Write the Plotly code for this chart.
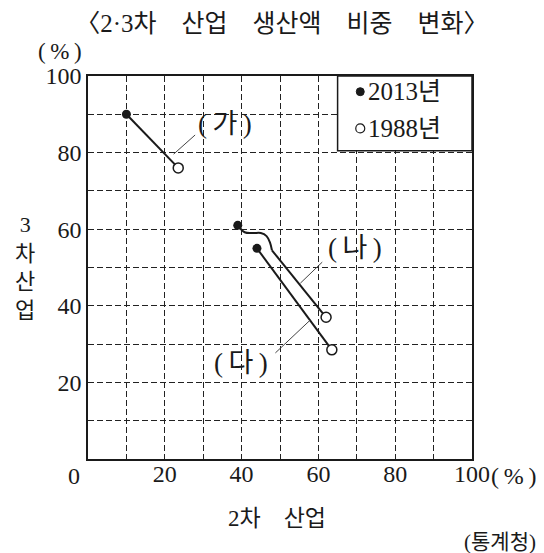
import plotly.graph_objects as go

# 2차·3차 산업 생산액 비중 (%)
groups = ["가", "나", "다"]
sec2_2013 = [10, 39, 44]
sec3_2013 = [90, 61, 55]
sec2_1988 = [23.5, 62, 63.5]
sec3_1988 = [76, 37, 28.5]

# (나)의 선이 (다) 2013년 점을 비켜 돌아가는 구간
na_bend_x = [40.8, 43.0, 45.0, 46.5, 47.4, 47.9]
na_bend_y = [59.2, 59.0, 59.0, 58.2, 56.5, 54.5]

x_ticks = [20, 40, 60, 80, 100]
y_ticks = [20, 40, 60, 80, 100]

SERIF = "Liberation Serif, Noto Sans CJK KR"
INK = "#1a1a1a"

fig = go.Figure()

# 1988 -> 2013 연결선
for i, g in enumerate(groups):
    if g == "나":
        fig.add_trace(go.Scatter(
            x=[sec2_2013[i]] + na_bend_x, y=[sec3_2013[i]] + na_bend_y,
            mode="lines", line=dict(color=INK, width=2, shape="spline"),
            showlegend=False, hoverinfo="skip"))
        fig.add_trace(go.Scatter(
            x=[na_bend_x[-1], sec2_1988[i]], y=[na_bend_y[-1], sec3_1988[i]],
            mode="lines", line=dict(color=INK, width=2),
            showlegend=False, hoverinfo="skip"))
    else:
        fig.add_trace(go.Scatter(
            x=[sec2_2013[i], sec2_1988[i]], y=[sec3_2013[i], sec3_1988[i]],
            mode="lines", line=dict(color=INK, width=2),
            showlegend=False, hoverinfo="skip"))

fig.add_trace(go.Scatter(
    x=sec2_2013, y=sec3_2013, mode="markers", name="2013년",
    marker=dict(size=9, color=INK), text=groups, showlegend=False))
fig.add_trace(go.Scatter(
    x=sec2_1988, y=sec3_1988, mode="markers", name="1988년",
    marker=dict(size=10, color="white", line=dict(color=INK, width=1.5)),
    text=groups, showlegend=False))

# 지시선과 (가)(나)(다) 표시
leaders = {"가": ((22.3, 79.6), (27.9, 84.6)),
           "나": ((55.3, 45.9), (61.0, 51.4)),
           "다": ((48.8, 27.7), (57.9, 36.3))}
label_at = {"가": (35.8, 87.4), "나": (69.6, 55.1), "다": (39.8, 25.0)}

shapes = []
annotations = []
for g in groups:
    (ax0, ay0), (ax1, ay1) = leaders[g]
    shapes.append(dict(type="line", xref="x", yref="y", x0=ax0, y0=ay0,
                       x1=ax1, y1=ay1, line=dict(color="#444", width=1)))
    lx, ly = label_at[g]
    annotations.append(dict(x=lx, y=ly, xref="x", yref="y", text="(\u2009" + g + "\u2009)",
                            showarrow=False, font=dict(family=SERIF, size=27, color=INK)))

# 범례 상자
shapes.append(dict(type="rect", xref="x", yref="y", x0=65, x1=100, y0=80.5, y1=100,
                   fillcolor="white", line=dict(color=INK, width=1.5), layer="above"))
shapes.append(dict(type="circle", xref="x", yref="y", xsizemode="pixel", ysizemode="pixel",
                   xanchor=70.9, yanchor=95.9, x0=-4, x1=4, y0=-4, y1=4,
                   fillcolor=INK, line=dict(color=INK, width=1), layer="above"))
shapes.append(dict(type="circle", xref="x", yref="y", xsizemode="pixel", ysizemode="pixel",
                   xanchor=70.9, yanchor=86.3, x0=-4.5, x1=4.5, y0=-4.5, y1=4.5,
                   fillcolor="white", line=dict(color=INK, width=1.2), layer="above"))
for txt, yy in [("2013년", 95.9), ("1988년", 86.3)]:
    annotations.append(dict(x=72.3, y=yy, xref="x", yref="y", text=txt, xanchor="left",
                            showarrow=False, font=dict(family=SERIF, size=25, color=INK)))


def note(text, x, y, size, xanchor="center", xref="paper", xshift=0):
    return dict(x=x, y=y, xref=xref, yref="paper", text=text, showarrow=False,
                xanchor=xanchor, yanchor="middle", xshift=xshift,
                font=dict(family=SERIF, size=size, color=INK))


# 축 제목, 단위, 출처
annotations += [
    note("3<br>차<br>산<br>업", -0.163, 0.50, 22),
    note("(\u2009%\u2009)", -0.072, 1.065, 23),
    note("2차\u3000산업", 0.493, -0.156, 23),
    note("(통계청)", 1.172, -0.218, 21, xanchor="right"),
    note("0", -0.0375, -0.0454, 24),
    note("(\u2009%\u2009)", 100, -0.0454, 24, xanchor="left", xref="x", xshift=17),
]

grid = dict(showgrid=True, gridcolor="#222", gridwidth=1, griddash="6px,3px")
fig.update_xaxes(range=[0, 100], tickvals=x_ticks, ticks="", zeroline=False,
                 showline=True, mirror=True, linecolor=INK, linewidth=1.5,
                 ticklabelstandoff=-8,
                 tickfont=dict(family=SERIF, size=24, color=INK),
                 minor=dict(dtick=10, tick0=0, **grid), **grid)
fig.update_yaxes(range=[0, 100], tickvals=y_ticks, ticks="", zeroline=False,
                 showline=True, mirror=True, linecolor=INK, linewidth=1.5,
                 tickfont=dict(family=SERIF, size=24, color=INK),
                 minor=dict(dtick=10, tick0=0, **grid), **grid)

# 페이지 기본 여백(8px)을 감안한 크기
fig.update_layout(
    width=536, height=545, autosize=False,
    margin=dict(l=80, r=72, t=68, b=94, pad=0),
    paper_bgcolor="white", plot_bgcolor="white",
    title=dict(text="〈2·3차\u3000산업\u3000생산액\u3000비중\u3000변화〉",
               x=0.511, y=0.972, xanchor="center", yanchor="middle", xref="container",
               font=dict(family=SERIF, size=25, color=INK)),
    shapes=shapes, annotations=annotations,
)

fig.write_html("out.html")
